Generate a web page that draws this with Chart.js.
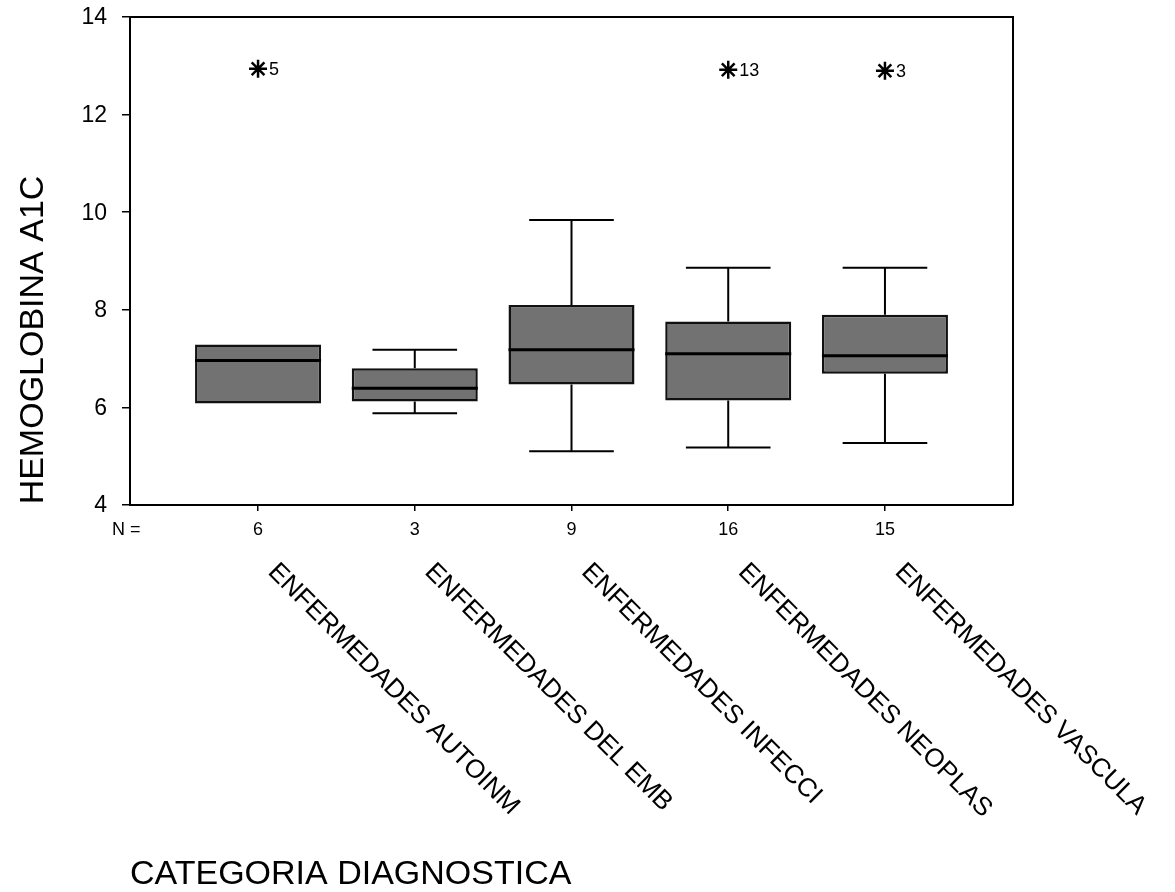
<!DOCTYPE html>
<html>
<head>
<meta charset="utf-8">
<title>Hemoglobina A1C por categoria diagnostica</title>
<script src="https://cdn.jsdelivr.net/npm/chart.js@4.4.1/dist/chart.umd.min.js"></script>
<style>
  html, body { margin: 0; padding: 0; background: #fff; }
  #chart { display: block; }
</style>
</head>
<body>
<canvas id="chart" width="1175" height="892"></canvas>
<script>
/* ============================================
   BOXPLOT — Hemoglobina A1C x Categoria
   ============================================ */

// Data
const categories = [
    'ENFERMEDADES AUTOINM',
    'ENFERMEDADES DEL EMB',
    'ENFERMEDADES INFECCI',
    'ENFERMEDADES NEOPLAS',
    'ENFERMEDADES VASCULA'
];
const nCounts = [6, 3, 9, 16, 15];
const q1Values = [6.08, 6.12, 6.47, 6.14, 6.69];
const q3Values = [7.29, 6.80, 8.10, 7.76, 7.90];
const medians = [6.96, 6.39, 7.18, 7.10, 7.06];
const whiskerLow = [6.08, 5.88, 5.10, 5.18, 5.27];
const whiskerHigh = [7.29, 7.18, 9.84, 8.86, 8.86];

// Extreme values (asterisks) with their case numbers
const outlierCat = [0, 3, 4];
const outlierValues = [12.94, 12.92, 12.90];
const outlierCases = ['5', '13', '3'];

const yTicks = [4, 6, 8, 10, 12, 14];

const FONT = "'Liberation Sans', Arial, sans-serif";

const boxData = categories.map((c, i) => ({ x: i, y: [q1Values[i], q3Values[i]] }));
const outlierData = outlierCat.map((c, i) => ({ x: c, y: outlierValues[i] }));

// Whiskers, medians, frame and the extra texts
const boxplotPlugin = {
    id: 'boxplotExtras',
    afterDatasetsDraw(chart) {
        const ctx = chart.ctx;
        const xs = chart.scales.x;
        const ys = chart.scales.y;
        const area = chart.chartArea;

        ctx.save();
        ctx.strokeStyle = '#000';
        ctx.lineCap = 'butt';

        categories.forEach((c, i) => {
            const cx = xs.getPixelForValue(i);
            const capL = xs.getPixelForValue(i - 0.27);
            const capR = xs.getPixelForValue(i + 0.27);
            const boxL = xs.getPixelForValue(i - 0.402);
            const boxR = xs.getPixelForValue(i + 0.402);

            ctx.lineWidth = 2;
            // upper whisker
            if (whiskerHigh[i] > q3Values[i]) {
                ctx.beginPath();
                ctx.moveTo(cx, ys.getPixelForValue(q3Values[i]));
                ctx.lineTo(cx, ys.getPixelForValue(whiskerHigh[i]));
                ctx.moveTo(capL, ys.getPixelForValue(whiskerHigh[i]));
                ctx.lineTo(capR, ys.getPixelForValue(whiskerHigh[i]));
                ctx.stroke();
            }
            // lower whisker
            if (whiskerLow[i] < q1Values[i]) {
                ctx.beginPath();
                ctx.moveTo(cx, ys.getPixelForValue(q1Values[i]));
                ctx.lineTo(cx, ys.getPixelForValue(whiskerLow[i]));
                ctx.moveTo(capL, ys.getPixelForValue(whiskerLow[i]));
                ctx.lineTo(capR, ys.getPixelForValue(whiskerLow[i]));
                ctx.stroke();
            }
            // median
            ctx.lineWidth = 3;
            ctx.beginPath();
            ctx.moveTo(boxL, ys.getPixelForValue(medians[i]));
            ctx.lineTo(boxR, ys.getPixelForValue(medians[i]));
            ctx.stroke();
        });

        // case numbers next to the asterisks
        ctx.fillStyle = '#000';
        ctx.font = '18px ' + FONT;
        ctx.textAlign = 'left';
        ctx.textBaseline = 'middle';
        outlierCat.forEach((c, i) => {
            ctx.fillText(outlierCases[i], xs.getPixelForValue(c) + 11, ys.getPixelForValue(outlierValues[i]) + 1);
        });

        // top and right frame lines
        ctx.lineWidth = 2;
        ctx.beginPath();
        ctx.moveTo(area.left, area.top);
        ctx.lineTo(area.right, area.top);
        ctx.lineTo(area.right, area.bottom);
        ctx.stroke();

        // y tick labels (kept clear of the axis like the original)
        ctx.font = '23px ' + FONT;
        ctx.textAlign = 'right';
        ctx.textBaseline = 'middle';
        yTicks.forEach(v => {
            ctx.fillText(String(v), area.left - 23, ys.getPixelForValue(v) + 1);
        });

        // "N =" row label
        ctx.font = '18px ' + FONT;
        ctx.textAlign = 'left';
        ctx.fillText('N =', 112, 530);

        // rotated category names
        ctx.font = '26px ' + FONT;
        ctx.textBaseline = 'alphabetic';
        categories.forEach((c, i) => {
            ctx.save();
            ctx.translate(xs.getPixelForValue(i) + 9, 573);
            ctx.rotate(Math.PI / 4);
            ctx.fillText(c, 0, 0);
            ctx.restore();
        });

        // axis titles
        ctx.font = '34px ' + FONT;
        ctx.fillText('CATEGORIA DIAGNOSTICA', 130, 884);

        ctx.save();
        ctx.translate(43, 340);
        ctx.rotate(-Math.PI / 2);
        ctx.textAlign = 'center';
        ctx.fillText('HEMOGLOBINA A1C', 0, 0);
        ctx.restore();

        ctx.restore();
    }
};

new Chart(document.getElementById('chart'), {
    type: 'bar',
    data: {
        datasets: [
            {
                label: 'Caja',
                data: boxData,
                backgroundColor: '#727272',
                borderColor: '#111',
                borderWidth: 2.5,
                borderSkipped: false,
                categoryPercentage: 1,
                barPercentage: 0.804,
                order: 2
            },
            {
                type: 'scatter',
                label: 'Extremos',
                data: outlierData,
                pointStyle: 'star',
                pointRadius: 9,
                borderColor: '#000',
                borderWidth: 2.5,
                backgroundColor: '#000',
                order: 1
            }
        ]
    },
    options: {
        responsive: false,
        animation: false,
        events: [],
        layout: { padding: { top: 17, right: 162, bottom: 0, left: 0 } },
        plugins: {
            legend: { display: false },
            tooltip: { enabled: false }
        },
        scales: {
            x: {
                type: 'linear',
                position: 'bottom',
                offset: false,
                min: -0.817,
                max: 4.817,
                afterFit(scale) { scale.height = 387; },
                grid: { offset: false, drawOnChartArea: false, drawTicks: true, tickLength: 6, color: '#000', lineWidth: 1.5 },
                border: { display: true, color: '#000', width: 2 },
                ticks: {
                    stepSize: 1,
                    includeBounds: false,
                    autoSkip: false,
                    maxRotation: 0,
                    padding: 8,
                    color: '#000',
                    font: { family: FONT, size: 18 },
                    callback: v => (Number.isInteger(v) && nCounts[v] !== undefined) ? String(nCounts[v]) : ''
                }
            },
            y: {
                min: yTicks[0],
                max: yTicks[yTicks.length - 1],
                afterFit(scale) { scale.width = 130; },
                afterBuildTicks(scale) { scale.ticks = yTicks.map(v => ({ value: v })); },
                grid: { drawOnChartArea: false, drawTicks: true, tickLength: 8, color: '#000', lineWidth: 1.5 },
                border: { display: true, color: '#000', width: 2 },
                ticks: { display: false }
            }
        }
    },
    plugins: [boxplotPlugin]
});
</script>
</body>
</html>
